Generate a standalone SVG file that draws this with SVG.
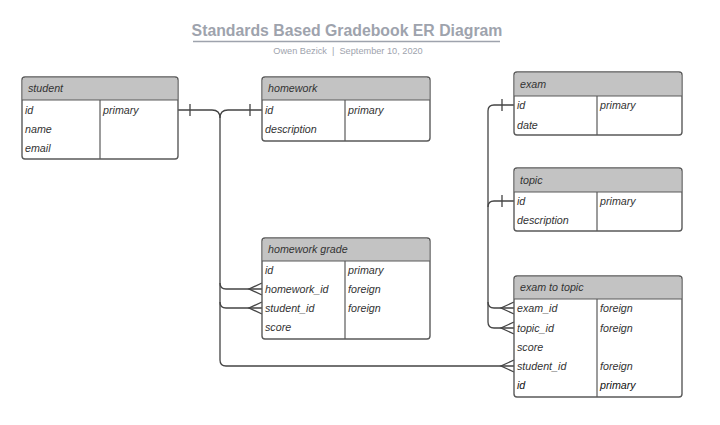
<svg xmlns="http://www.w3.org/2000/svg" width="720" height="425" viewBox="0 0 720 425">
<style>
.tbl{fill:#fff;stroke:#5a5a5a;stroke-width:1.4}
.hdr{fill:#c3c3c3}
.div{stroke:#5a5a5a;stroke-width:1.2}
.t{font-family:"Liberation Sans",Arial,sans-serif;font-style:italic;font-size:10.7px;fill:#333}
.b{fill:#111}
.ln{fill:none;stroke:#444;stroke-width:1.3}
</style>
<rect width="720" height="425" fill="#fff"/>
<g id="title">
<text x="347" y="36" text-anchor="middle" font-family="Liberation Sans,Arial,sans-serif" font-weight="bold" font-size="15.8" fill="#9ea3ad">Standards Based Gradebook ER Diagram</text>
<line x1="193" y1="41.5" x2="500" y2="41.5" stroke="#9ea3ad" stroke-width="1.5"/>
<text x="348" y="54" text-anchor="middle" font-family="Liberation Sans,Arial,sans-serif" font-size="9.2" fill="#9ea3ad" xml:space="preserve">Owen Bezick  |  September 10, 2020</text>
</g>
<g id="connectors">
<path class="ln" d="M178,110 H212 Q220,110 220,118 V360 Q220,366 226,366 H514"/>
<path class="ln" d="M262,110 H228 Q220,110 220,118"/>
<path class="ln" d="M220,283 Q220,289 226,289 H262"/>
<path class="ln" d="M220,302 Q220,308 226,308 H262"/>
<path class="ln" d="M190,104 V116 M250,104 V116"/>
<path class="ln" d="M262,283 L249,289 L262,295 M262,302 L249,308 L262,314"/>
<path class="ln" d="M514,360 L501,366 L514,372"/>
<path class="ln" d="M514,105 H494 Q488,105 488,111 V322 Q488,328 494,328 H514"/>
<path class="ln" d="M514,201 H494 Q488,201 488,207"/>
<path class="ln" d="M488,302 Q488,308 494,308 H514"/>
<path class="ln" d="M502,99 V111 M502,195 V207"/>
<path class="ln" d="M514,302 L501,308 L514,314 M514,322 L501,328 L514,334"/>
</g>
<g id="student">
<rect class="tbl" x="22" y="77" width="156" height="82" rx="3"/>
<path class="hdr" d="M25,77.7 H175 Q177.3,77.7 177.3,80 V100 H22.7 V80 Q22.7,77.7 25,77.7 Z"/>
<line class="div" x1="22" y1="100" x2="178" y2="100"/>
<line class="div" x1="100" y1="100" x2="100" y2="159"/>
<text class="t" x="28" y="92">student</text>
<text class="t" x="25" y="114">id</text><text class="t" x="103" y="114">primary</text>
<text class="t" x="25" y="133">name</text>
<text class="t" x="25" y="152">email</text>
</g>
<g id="homework">
<rect class="tbl" x="262" y="77" width="168" height="64" rx="3"/>
<path class="hdr" d="M265,77.7 H427 Q429.3,77.7 429.3,80 V100 H262.7 V80 Q262.7,77.7 265,77.7 Z"/>
<line class="div" x1="262" y1="100" x2="430" y2="100"/>
<line class="div" x1="345" y1="100" x2="345" y2="141"/>
<text class="t" x="268" y="92">homework</text>
<text class="t" x="265" y="114">id</text><text class="t" x="348" y="114">primary</text>
<text class="t" x="265" y="133">description</text>
</g>
<g id="homework-grade">
<rect class="tbl" x="262" y="238" width="168" height="101" rx="3"/>
<path class="hdr" d="M265,238.7 H427 Q429.3,238.7 429.3,241 V261 H262.7 V241 Q262.7,238.7 265,238.7 Z"/>
<line class="div" x1="262" y1="261" x2="430" y2="261"/>
<line class="div" x1="345" y1="261" x2="345" y2="339"/>
<text class="t" x="268" y="253">homework grade</text>
<text class="t" x="265" y="274">id</text><text class="t" x="348" y="274">primary</text>
<text class="t" x="265" y="293">homework_id</text><text class="t" x="348" y="293">foreign</text>
<text class="t" x="265" y="312">student_id</text><text class="t" x="348" y="312">foreign</text>
<text class="t" x="265" y="331">score</text>
</g>
<g id="exam">
<rect class="tbl" x="514" y="72" width="168" height="63" rx="3"/>
<path class="hdr" d="M517,72.7 H679 Q681.3,72.7 681.3,75 V96 H514.7 V75 Q514.7,72.7 517,72.7 Z"/>
<line class="div" x1="514" y1="96" x2="682" y2="96"/>
<line class="div" x1="597" y1="96" x2="597" y2="135"/>
<text class="t" x="520" y="88">exam</text>
<text class="t" x="517" y="109">id</text><text class="t" x="600" y="109">primary</text>
<text class="t" x="517" y="129">date</text>
</g>
<g id="topic">
<rect class="tbl" x="514" y="168" width="168" height="63" rx="3"/>
<path class="hdr" d="M517,168.7 H679 Q681.3,168.7 681.3,171 V192 H514.7 V171 Q514.7,168.7 517,168.7 Z"/>
<line class="div" x1="514" y1="192" x2="682" y2="192"/>
<line class="div" x1="597" y1="192" x2="597" y2="231"/>
<text class="t" x="520" y="184">topic</text>
<text class="t" x="517" y="205">id</text><text class="t" x="600" y="205">primary</text>
<text class="t" x="517" y="224">description</text>
</g>
<g id="exam-to-topic">
<rect class="tbl" x="514" y="276" width="168" height="121" rx="3"/>
<path class="hdr" d="M517,276.7 H679 Q681.3,276.7 681.3,279 V299 H514.7 V279 Q514.7,276.7 517,276.7 Z"/>
<line class="div" x1="514" y1="299" x2="682" y2="299"/>
<line class="div" x1="597" y1="299" x2="597" y2="397"/>
<text class="t" x="520" y="291">exam to topic</text>
<text class="t" x="517" y="312">exam_id</text><text class="t" x="600" y="312">foreign</text>
<text class="t" x="517" y="332">topic_id</text><text class="t" x="600" y="332">foreign</text>
<text class="t" x="517" y="351">score</text>
<text class="t" x="517" y="370">student_id</text><text class="t" x="600" y="370">foreign</text>
<text class="t b" x="517" y="389">id</text><text class="t b" x="600" y="389">primary</text>
</g>
</svg>
